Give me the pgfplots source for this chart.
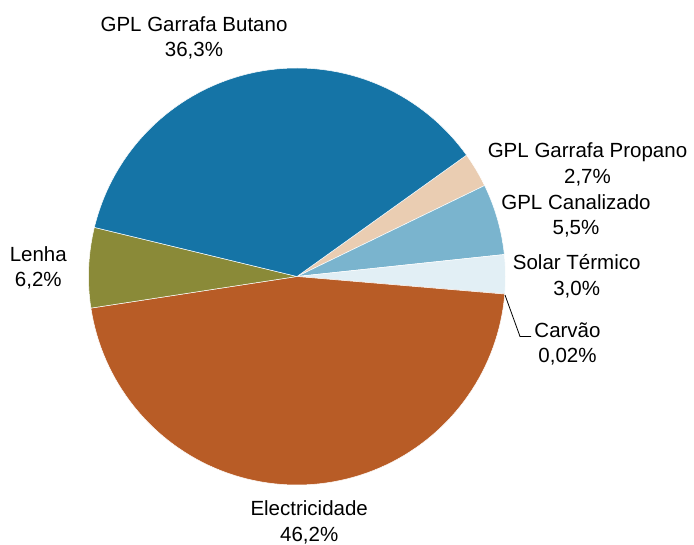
\documentclass[border=0pt]{standalone}
\usepackage{fontspec}
\setmainfont{Liberation Sans}
\usepackage{pgfplots}
\pgfplotsset{compat=1.18}
\definecolor{cButano}{RGB}{21,116,166}
\definecolor{cPropano}{RGB}{234,205,178}
\definecolor{cCanal}{RGB}{122,180,206}
\definecolor{cSolar}{RGB}{226,239,245}
\definecolor{cCarvao}{RGB}{60,60,60}
\definecolor{cElec}{RGB}{184,92,38}
\definecolor{cLenha}{RGB}{138,138,56}
% shares (%)
\def\vPropano{2.7}
\def\vCanal{5.5}
\def\vSolar{3.0}
\def\vCarvao{0.02}
\def\vElec{46.2}
\def\vLenha{6.2}
\def\vButano{36.3}
\def\cx{297}
\def\cy{268.5}
\def\R{208.5}
\newcommand{\slice}[3]{%
  \addplot[fill=#3, draw=white, line width=0.5pt, line join=round, domain=#2:#1, samples=90, variable=\t]
    ({\cx+\R*cos(t)},{\cy+\R*sin(t)}) -- (\cx,\cy) -- cycle;}
\begin{document}
\begin{tikzpicture}
\pgfmathsetmacro{\tot}{\vPropano+\vCanal+\vSolar+\vCarvao+\vElec+\vLenha+\vButano}
\pgfmathsetmacro{\k}{360/\tot}
\pgfmathsetmacro{\aA}{35.6}
\pgfmathsetmacro{\aB}{\aA-\k*\vPropano}
\pgfmathsetmacro{\aC}{\aB-\k*\vCanal}
\pgfmathsetmacro{\aD}{\aC-\k*\vSolar}
\pgfmathsetmacro{\aE}{\aD-\k*\vCarvao}
\pgfmathsetmacro{\aF}{\aE-\k*\vElec}
\pgfmathsetmacro{\aG}{\aF-\k*\vLenha}
\pgfmathsetmacro{\aH}{\aG-\k*\vButano}
\begin{axis}[
  width=694bp, height=545bp, scale only axis,
  xmin=0, xmax=694, ymin=0, ymax=545,
  hide axis, clip=false,
]
\slice{\aA}{\aB}{cPropano}
\slice{\aB}{\aC}{cCanal}
\slice{\aC}{\aD}{cSolar}
\slice{\aD}{\aE}{cCarvao}
\slice{\aE}{\aF}{cElec}
\slice{\aF}{\aG}{cLenha}
\slice{\aG}{\aH}{cButano}
\addplot[black, line width=0.8pt] coordinates {(505,250) (520,208.5) (531,208.5)};
\tikzset{lab/.style={anchor=base, inner sep=0pt, font=\fontsize{20.5bp}{24bp}\selectfont}}
\node[lab] at (axis cs:194,513.3) {GPL Garrafa Butano};
\node[lab] at (axis cs:194,488.3) {36,3\%};
\node[lab] at (axis cs:587.5,387.7) {GPL Garrafa Propano};
\node[lab] at (axis cs:587.5,361.7) {2,7\%};
\node[lab] at (axis cs:576,335.7) {GPL Canalizado};
\node[lab] at (axis cs:576,310) {5,5\%};
\node[lab] at (axis cs:576.7,275) {Solar Térmico};
\node[lab] at (axis cs:576.7,249.3) {3,0\%};
\node[lab] at (axis cs:567.5,207.7) {Carvão};
\node[lab] at (axis cs:567.5,182.7) {0,02\%};
\node[lab] at (axis cs:38.3,283.3) {Lenha};
\node[lab] at (axis cs:38.3,258.3) {6,2\%};
\node[lab] at (axis cs:309.2,29.3) {Electricidade};
\node[lab] at (axis cs:309.2,4) {46,2\%};
\end{axis}
\pgfresetboundingbox
\path (current axis.south west) rectangle (current axis.north east);
\end{tikzpicture}
\end{document}
